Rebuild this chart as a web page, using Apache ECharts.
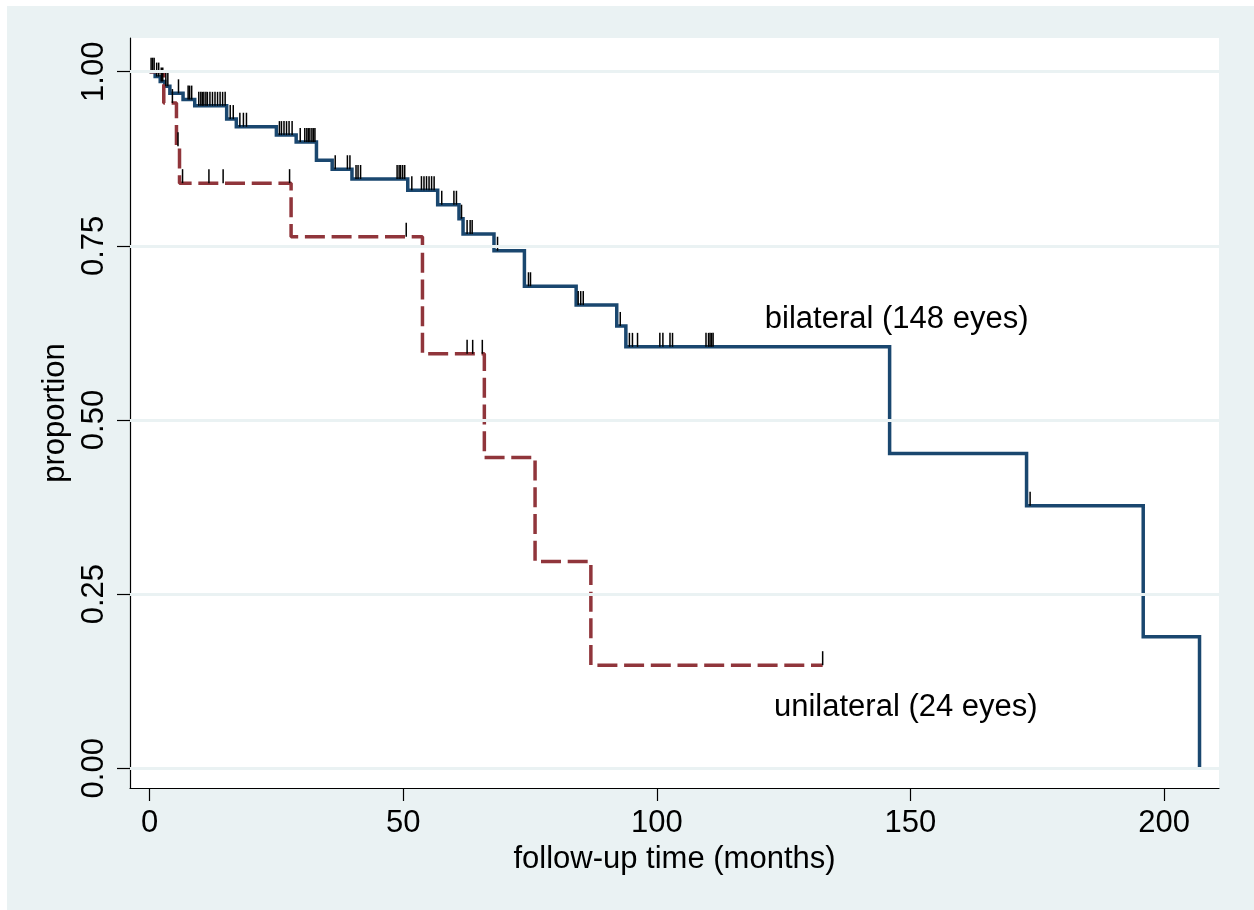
<!DOCTYPE html>
<html>
<head>
<meta charset="utf-8">
<script src="https://cdn.jsdelivr.net/npm/echarts@6/dist/echarts.min.js"></script>
<style>
  html, body { margin: 0; padding: 0; background: #ffffff; }
  #chart {
    width: 1254px; height: 910px;
    background: linear-gradient(#EAF2F3, #EAF2F3) no-repeat 7px 6px / 1247px 904px, #ffffff;
  }
</style>
</head>
<body>
<div id="chart"></div>
<script>
// ---- data ----
const xTicks = [0, 50, 100, 150, 200];
const yTicks = [0, 0.25, 0.5, 0.75, 1];

// bilateral (148 eyes): step times (months) and survival after each step
const bilateralTime = [0, 1.1, 2.1, 3.0, 4.0, 6.6, 8.9, 15.2, 17.1, 25.0, 28.9, 32.9, 36.0, 39.9, 50.9, 56.8, 61.0, 61.8, 67.9, 73.9, 84.1, 92.1, 93.9, 145.9, 172.9, 195.9, 207.0];
const bilateralSurv = [1, 0.993, 0.986, 0.979, 0.969, 0.960, 0.951, 0.932, 0.921, 0.909, 0.899, 0.873, 0.860, 0.846, 0.830, 0.809, 0.789, 0.767, 0.743, 0.692, 0.665, 0.635, 0.605, 0.452, 0.377, 0.189, 0];

// bilateral censoring marks
const bilateralCensorTime = [0.3, 0.6, 0.9, 1.4, 1.8, 2.3, 2.6, 3.2, 3.6, 5.7, 7.6, 7.9, 8.3,
  9.7, 10.1, 10.4, 10.7, 11.1, 11.4, 11.9, 12.4, 12.9, 13.4, 13.9, 14.4, 14.9,
  15.9, 16.5, 17.8, 18.5, 19.1,
  25.6, 26.0, 26.5, 27.0, 27.5, 28.1,
  29.7, 30.6, 31.0, 31.3, 31.6, 32.0, 32.3, 32.6,
  36.6, 39.0, 39.5,
  40.7, 41.1, 41.6, 48.8, 49.2, 49.5, 49.9, 50.3,
  51.7, 53.6, 54.1, 54.6, 55.1, 55.6, 56.1,
  57.6, 60.0, 60.5, 61.5, 62.6, 63.2, 63.6, 68.6, 74.7, 75.1, 84.5, 85.0, 85.5, 92.8,
  94.6, 95.2, 96.2, 100.6, 101.2, 102.6, 103.1, 109.7, 110.2, 110.5, 110.8, 111.1,
  173.6];
const bilateralCensorSurv = [1, 1, 1, 0.993, 0.993, 0.986, 0.986, 0.979, 0.979, 0.969, 0.960, 0.960, 0.960,
  0.951, 0.951, 0.951, 0.951, 0.951, 0.951, 0.951, 0.951, 0.951, 0.951, 0.951, 0.951, 0.951,
  0.932, 0.932, 0.921, 0.921, 0.921,
  0.909, 0.909, 0.909, 0.909, 0.909, 0.909,
  0.899, 0.899, 0.899, 0.899, 0.899, 0.899, 0.899, 0.899,
  0.860, 0.860, 0.860,
  0.846, 0.846, 0.846, 0.846, 0.846, 0.846, 0.846, 0.846,
  0.830, 0.830, 0.830, 0.830, 0.830, 0.830, 0.830,
  0.809, 0.809, 0.809, 0.789, 0.767, 0.767, 0.767, 0.743, 0.692, 0.692, 0.665, 0.665, 0.665, 0.635,
  0.605, 0.605, 0.605, 0.605, 0.605, 0.605, 0.605, 0.605, 0.605, 0.605, 0.605, 0.605,
  0.377];

// unilateral (24 eyes)
const unilateralTime = [0, 2.8, 5.3, 5.9, 27.9, 53.8, 66.0, 76.0, 87.0, 132.7];
const unilateralSurv = [1, 0.955, 0.893, 0.840, 0.763, 0.595, 0.446, 0.297, 0.148, 0.148];
const unilateralCensorTime = [4.5, 5.6, 6.5, 11.7, 14.5, 27.6, 50.6, 62.6, 63.7, 65.6, 132.7];
const unilateralCensorSurv = [0.955, 0.893, 0.840, 0.840, 0.840, 0.840, 0.763, 0.595, 0.595, 0.595, 0.148];

// curve labels
const labelNames = ['bilateral (148 eyes)', 'unilateral (24 eyes)'];
const labelTime = [121.3, 123.1];
const labelSurv = [0.644, 0.088];

// ---- chart ----
const FONT = '"Liberation Sans", Arial, sans-serif';
const zip = (a, b) => a.map((v, i) => [v, b[i]]);

const chart = echarts.init(document.getElementById('chart'), null, { renderer: 'canvas' });
chart.setOption({
  backgroundColor: 'transparent',
  animation: false,
  textStyle: { fontFamily: FONT },
  grid: { left: 130, top: 38, right: 35, bottom: 122, show: true, backgroundColor: '#ffffff', borderWidth: 0, containLabel: false },
  xAxis: {
    type: 'value', min: -3.86, max: 210.84,
    name: 'follow-up time (months)', nameLocation: 'middle', nameGap: 55,
    nameTextStyle: { fontSize: 31, color: '#000', fontFamily: FONT },
    axisLine: { show: true, onZero: false, lineStyle: { color: '#000', width: 1.2 } },
    axisTick: { show: true, length: 13, customValues: xTicks, lineStyle: { color: '#000', width: 1.2 } },
    axisLabel: { customValues: xTicks, fontSize: 31, color: '#000', margin: 20, fontFamily: FONT },
    splitLine: { show: false }
  },
  yAxis: {
    type: 'value', min: -0.0283, max: 1.0484,
    name: 'proportion', nameLocation: 'middle', nameGap: 51, nameRotate: 90,
    nameTextStyle: { fontSize: 31, color: '#000', fontFamily: FONT },
    axisLine: { show: true, onZero: false, lineStyle: { color: '#000', width: 1.2 } },
    axisTick: { show: true, length: 13, customValues: yTicks, lineStyle: { color: '#000', width: 1.2 } },
    axisLabel: { customValues: yTicks, rotate: 90, fontSize: 31, color: '#000', margin: 20, fontFamily: FONT,
      formatter: v => Number(v).toFixed(2) },
    splitLine: { show: false }
  },
  series: [
    {
      type: 'line', data: [], z: 1, silent: true,
      markLine: {
        silent: true, symbol: 'none', label: { show: false },
        lineStyle: { color: '#EAF2F3', width: 3, type: 'solid' },
        data: yTicks.map(v => ({ yAxis: v }))
      }
    },
    {
      name: 'bilateral', type: 'line', step: 'end', z: 2, silent: true,
      showSymbol: false, symbol: 'none',
      data: zip(bilateralTime, bilateralSurv),
      lineStyle: { color: '#1A476F', width: 3.5, join: 'miter' }
    },
    {
      name: 'unilateral', type: 'line', step: 'end', z: 3, silent: true,
      showSymbol: false, symbol: 'none',
      data: zip(unilateralTime, unilateralSurv),
      lineStyle: { color: '#90353B', width: 3.5, type: [20, 6.7] }
    },
    {
      type: 'scatter', z: 4, silent: true,
      symbol: 'rect', symbolSize: [1.5, 14], symbolOffset: [0, -7],
      itemStyle: { color: '#000', opacity: 1 },
      data: zip(bilateralCensorTime, bilateralCensorSurv).concat(zip(unilateralCensorTime, unilateralCensorSurv))
    },
    {
      type: 'scatter', z: 5, silent: true, symbolSize: 0,
      itemStyle: { opacity: 1 },
      data: labelNames.map((n, i) => ({ name: n, value: [labelTime[i], labelSurv[i]] })),
      label: { show: true, position: 'right', distance: 0, formatter: p => p.name,
        fontSize: 31, color: '#000', opacity: 1, textBorderWidth: 0, fontFamily: FONT }
    }
  ]
});
</script>
</body>
</html>
